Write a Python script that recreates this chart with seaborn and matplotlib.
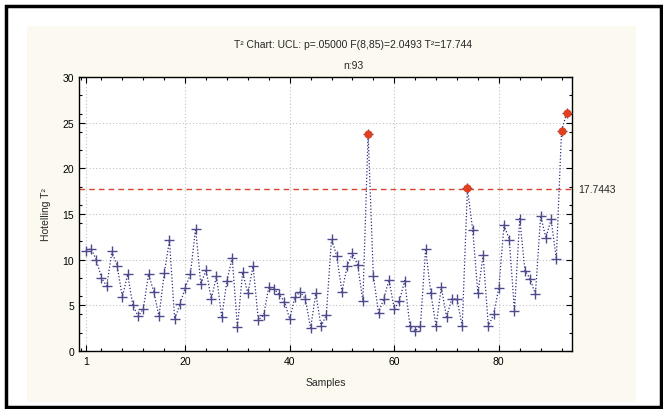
import numpy as np
import pandas as pd
import seaborn as sns
import matplotlib
matplotlib.use("Agg")
from matplotlib import pyplot as plt
from matplotlib.patches import Rectangle
from matplotlib.ticker import MultipleLocator
import matplotlib.transforms as mtransforms

# T² values per sample
t2_values = [
    11.0, 11.2, 10.0, 8.0, 7.1, 10.9, 9.3, 5.9, 8.4, 5.0,
    3.8, 4.6, 8.4, 6.5, 3.8, 8.5, 12.1, 3.5, 5.1, 6.9,
    8.4, 13.4, 7.3, 8.9, 5.7, 8.2, 3.7, 7.7, 10.2, 2.6,
    8.6, 6.3, 9.3, 3.4, 3.9, 7.0, 6.8, 6.2, 5.4, 3.5,
    5.9, 6.5, 5.7, 2.5, 6.3, 2.7, 3.9, 12.3, 10.4, 6.5,
    9.3, 10.7, 9.4, 5.5, 23.8, 8.2, 4.2, 5.7, 7.8, 4.6,
    5.5, 7.7, 2.7, 2.2, 2.7, 11.2, 6.3, 2.7, 7.0, 3.7,
    5.7, 5.7, 2.7, 17.8, 13.3, 6.3, 10.5, 2.7, 4.0, 6.9,
    13.8, 12.2, 4.4, 14.5, 8.8, 7.9, 6.2, 14.8, 12.4, 14.4,
    10.1, 24.1, 26.1,
]
samples = list(range(1, len(t2_values) + 1))
ucl = 17.7443
x_ticks = [1, 20, 40, 60, 80]
y_ticks = [0, 5, 10, 15, 20, 25, 30]

df = pd.DataFrame({"Sample": samples, "T2": t2_values})
out = df[df["T2"] > ucl]

sns.set_style("ticks")
plt.rcParams["font.family"] = ["Liberation Sans", "DejaVu Sans"]

W, H = 663, 410
fig = plt.figure(figsize=(W / 100, H / 100), dpi=100, facecolor="white")

# cream panel and black outer frame
fig.patches.append(Rectangle((27 / W, 1 - 403 / H), (636 - 27) / W, (403 - 27) / H,
                             transform=fig.transFigure, facecolor="#fcfaf0",
                             edgecolor="none", zorder=-2))
fig.patches.append(Rectangle((6 / W, 1 - 408 / H), (661 - 6) / W, (408 - 7) / H,
                             transform=fig.transFigure, facecolor="none",
                             edgecolor="black", lw=2.5, zorder=-1))

ax = fig.add_axes([79 / W, 1 - 352 / H, (572 - 79) / W, (352 - 78) / H])
ax.set_facecolor("white")

ax.axhline(ucl, color="#d9452e", lw=1.0, ls=(0, (4, 3)), zorder=2)

sns.lineplot(data=df, x="Sample", y="T2", ax=ax, color="#2c2c80",
             lw=0.9, ls=(0, (1, 1.6)), marker="+", markersize=6.5,
             markeredgewidth=1.0, markeredgecolor="#4e4a8c", zorder=3)
sns.scatterplot(data=out, x="Sample", y="T2", ax=ax, color="#e0401e",
                s=34, edgecolor="#e0401e", linewidth=0, zorder=4)

ax.set_xlim(-0.3, 94)
ax.set_ylim(0, 30)
ax.set_xticks(x_ticks)
ax.set_yticks(y_ticks)
ax.xaxis.set_minor_locator(MultipleLocator(4))
ax.yaxis.set_minor_locator(MultipleLocator(2))
ax.grid(True, which="major", color="#c0c0c0", ls=(0, (1, 2)), lw=0.8)
ax.tick_params(which="both", direction="in", top=True, right=True,
               labelsize=7.5, colors="black", width=0.8)
ax.tick_params(which="major", length=4)
ax.tick_params(which="minor", length=2)
for s in ax.spines.values():
    s.set_color("black")
    s.set_linewidth(1.0)

ax.set_xlabel("Samples", fontsize=7.5, labelpad=8)
ax.set_ylabel("Hotelling T²", fontsize=7.5, labelpad=8)

trans = mtransforms.blended_transform_factory(ax.transAxes, ax.transData)
ax.text(1.013, ucl, "17.7443", transform=trans, ha="left", va="center", fontsize=7.5)

fig.text(353 / W, 1 - 45 / H, "T² Chart: UCL: p=.05000 F(8,85)=2.0493 T²=17.744",
         ha="center", va="center", fontsize=7.5)
fig.text(353 / W, 1 - 66 / H, "n:93", ha="center", va="center", fontsize=7.5)

fig.savefig("out.png", dpi=100)
